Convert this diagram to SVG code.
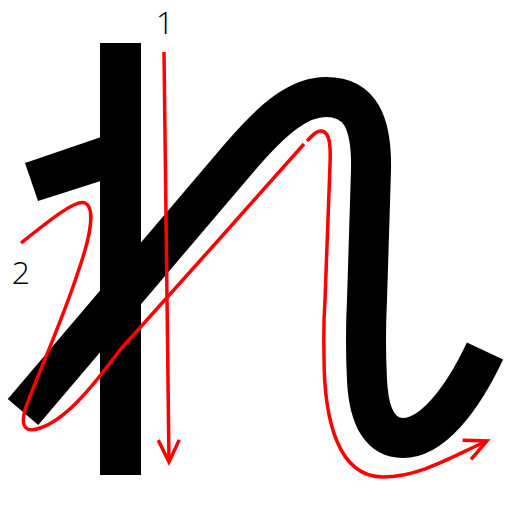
<svg xmlns="http://www.w3.org/2000/svg" width="512" height="512" viewBox="0 0 512 512">
<style>
.ink{fill:#000;stroke:none}
.brush{fill:none;stroke:#000;stroke-width:40;stroke-linejoin:round}
.guide{fill:none;stroke:#ff0000;stroke-width:3.5;stroke-linecap:butt;stroke-linejoin:round}
.num{font-family:"Open Sans","DejaVu Sans",sans-serif;font-weight:300;font-size:32px;fill:#000;text-anchor:middle}
</style>
<defs>
<marker id="arr" markerUnits="userSpaceOnUse" markerWidth="40" markerHeight="40" refX="0" refY="0" orient="auto" overflow="visible" viewBox="-30 -15 40 30">
<path d="M-22,-10.5 L0,0 L-22,10.5" fill="none" stroke="#ff0000" stroke-width="3.5" stroke-linejoin="miter"/>
</marker>
</defs>
<rect width="512" height="512" fill="#fff"/>
<g id="character">
<polygon class="ink" points="25,163 110,134 110,178 38,201"/>
<path class="brush" d="M23,412 L240,157 C275,116 300,97 326,97 C360,97 372,122 371,170 L367,300 C365,340 366,360 367,380 C369,420 382,438 403,438 C432,438 462,400 485,351"/>
<rect class="ink" x="100" y="43" width="41" height="432"/>
</g>
<g id="stroke1">
<path class="guide" d="M164,52 L169,462" marker-end="url(#arr)"/>
<text class="num" x="165" y="34">1</text>
</g>
<g id="stroke2">
<path class="guide" d="M21,243 C50,220 76,199 85,203 C96,208 90,238 78,272 C62,322 32,388 25,410 C20,428 27,433 40,428 C65,420 90,390 120,350 C165,300 250,205 304,144"/>
<path class="guide" d="M307,141 C313,135 317,130 322,131 C329,133 331,142 330,165 L325,300 C323,330 324,345 324,356 C324,420 338,477 383,477 C420,477 455,455 487,441" marker-end="url(#arr)"/>
<text class="num" x="21" y="284">2</text>
</g>
</svg>
